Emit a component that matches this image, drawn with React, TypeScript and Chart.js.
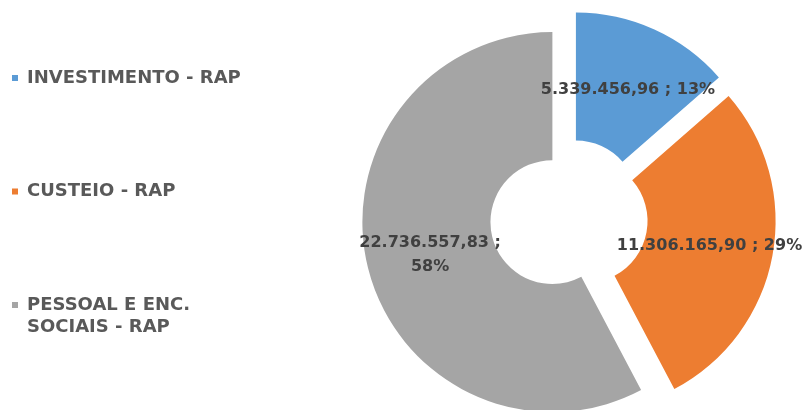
import React, { useEffect, useRef } from 'react';
import { Chart, DoughnutController, ArcElement, Legend } from 'chart.js';

// ---- data ----
const categories = ['INVESTIMENTO - RAP', 'CUSTEIO - RAP', 'PESSOAL E ENC. SOCIAIS - RAP'];
const legendLines = [['INVESTIMENTO - RAP'], ['CUSTEIO - RAP'], ['PESSOAL E ENC.', 'SOCIAIS - RAP']];
const values = [5339456.96, 11306165.9, 22736557.83];
const percentLabels = [13, 29, 58];
const colors = ['#5B9BD5', '#ED7D31', '#A5A5A5'];

const FONT = "'DejaVu Sans'";

function formatBR(v: number): string {
  const [intPart, dec] = v.toFixed(2).split('.');
  return intPart.replace(/\B(?=(\d{3})+(?!\d))/g, '.') + ',' + dec;
}

function sliceLabelLines(i: number): string[] {
  const v = formatBR(values[i]);
  const p = percentLabels[i] + '%';
  return i === 2 ? [v + ' ;', p] : [v + ' ; ' + p];
}

// Arc that is moved out by its full offset without growing its radius
class ExplodedArc extends ArcElement {
  static id = 'explodedArc';
  draw(ctx: CanvasRenderingContext2D) {
    const self: any = this;
    const opts = self.options;
    const explode = (opts && opts.offset) || 0;
    const mid = (self.startAngle + self.endAngle) / 2;
    ctx.save();
    ctx.translate(Math.cos(mid) * explode, Math.sin(mid) * explode);
    self.options = { ...opts, offset: 0 };
    super.draw(ctx);
    self.options = opts;
    ctx.restore();
  }
}

class ExplodedDoughnut extends DoughnutController {
  static id = 'explodedDoughnut';
  static defaults = { dataElementType: 'explodedArc' };
}

Chart.register(ExplodedDoughnut, ExplodedArc, Legend);

const sliceLabelPlugin = {
  id: 'sliceLabels',
  afterDatasetsDraw(chart: any) {
    const meta = chart.getDatasetMeta(0);
    const ctx = chart.ctx as CanvasRenderingContext2D;
    ctx.save();
    ctx.font = `bold 16px ${FONT}`;
    ctx.fillStyle = '#404040';
    ctx.textAlign = 'center';
    ctx.textBaseline = 'middle';
    meta.data.forEach((arc: any, i: number) => {
      const p = arc.getProps(['x', 'y', 'startAngle', 'endAngle', 'innerRadius', 'outerRadius'], true);
      const off = (arc.options && arc.options.offset) || 0;
      const mid = (p.startAngle + p.endAngle) / 2;
      const r = (p.innerRadius + p.outerRadius) / 2 + off;
      const cx = p.x + Math.cos(mid) * r;
      const cy = p.y + Math.sin(mid) * r + 2;
      const lines = sliceLabelLines(i);
      const lh = 24;
      lines.forEach((line, k) => {
        ctx.fillText(line, cx, cy + (k - (lines.length - 1) / 2) * lh);
      });
    });
    ctx.restore();
  },
};

export default function App() {
  const ref = useRef<HTMLCanvasElement>(null);

  useEffect(() => {
    if (!ref.current) return;
    const chart = new Chart(ref.current, {
      type: 'explodedDoughnut' as any,
      data: {
        labels: categories,
        datasets: [
          {
            data: values,
            backgroundColor: colors,
            borderWidth: 0,
            offset: 17,
            clip: false,
          } as any,
        ],
      },
      options: {
        responsive: false,
        maintainAspectRatio: false,
        animation: false,
        radius: 190,
        cutout: '32.6%',
        layout: { padding: { left: 11, top: 68, right: 0, bottom: 42 } },
        plugins: {
          tooltip: { enabled: false },
          legend: {
            position: 'left',
            align: 'start',
            labels: {
              boxWidth: 6,
              boxHeight: 6,
              padding: 1,
              color: '#595959',
              font: { family: FONT, size: 18, weight: 'bold', lineHeight: 1.25 },
              generateLabels: () =>
                legendLines.map((lines, i) => ({
                  text:
                    i < legendLines.length - 1
                      ? [...lines, ...new Array(5 - lines.length).fill('')]
                      : lines,
                  fillStyle: colors[i],
                  strokeStyle: colors[i],
                  lineWidth: 0,
                  hidden: false,
                  index: i,
                  fontColor: '#595959',
                })) as any,
            },
          },
        },
      } as any,
      plugins: [sliceLabelPlugin],
    });
    return () => chart.destroy();
  }, []);

  return (
    <div style={{ position: 'absolute', left: 0, top: 0, width: 803, height: 410, overflow: 'hidden', background: '#fff' }}>
      <canvas ref={ref} width={887} height={410} style={{ display: 'block' }} />
    </div>
  );
}
